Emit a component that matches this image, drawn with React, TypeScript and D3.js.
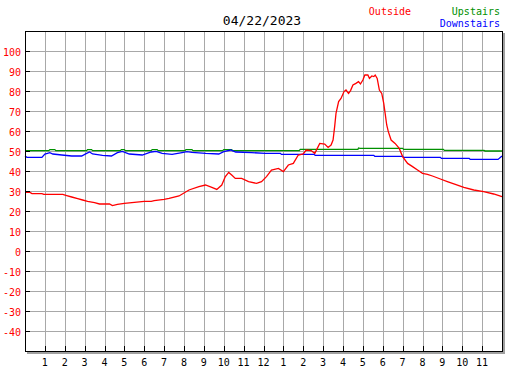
import React from "react";
import * as d3 from "d3";

// hour of day, temperature
const outsideTemps: [number, number][] = [
  [0, 29.3], [0.25, 29.3], [0.35, 28.7], [0.85, 28.7], [0.95, 28.3], [1.9, 28.3],
  [2.1, 27.7], [2.35, 27.0], [2.65, 26.2], [2.9, 25.5], [3.15, 24.8], [3.5, 24.2],
  [3.75, 23.5], [4.25, 23.5], [4.4, 22.7], [4.65, 23.3], [5.0, 23.8], [5.5, 24.3],
  [6.0, 24.8], [6.35, 24.8], [6.5, 25.2], [7.0, 25.8], [7.25, 26.3], [7.75, 27.5],
  [8.25, 30.5], [8.75, 32.2], [9.08, 33], [9.4, 31.8], [9.65, 30.8], [9.9, 33],
  [10.08, 37.2], [10.25, 39.3], [10.4, 38], [10.58, 36.3], [10.9, 36.3], [11.25, 34.7],
  [11.65, 33.8], [11.9, 34.7], [12.15, 37.2], [12.4, 40.5], [12.75, 41.3], [13.0, 39.7],
  [13.25, 43], [13.5, 43.8], [13.75, 48], [14.0, 48.5], [14.15, 50.5], [14.4, 50.2],
  [14.58, 48.8], [14.83, 53.8], [15.08, 53.5], [15.25, 51.8], [15.4, 53], [15.5, 55.5],
  [15.58, 62.2], [15.65, 69], [15.78, 74.7], [15.9, 76.3], [16.05, 79.7], [16.15, 80.5],
  [16.28, 78.8], [16.38, 80.2], [16.5, 83], [16.65, 83.8], [16.78, 84.7], [16.88, 83.5],
  [17.0, 85.5], [17.1, 88], [17.25, 88], [17.33, 86.3], [17.45, 87.5], [17.55, 87.2],
  [17.62, 88], [17.72, 86.3], [17.83, 80.5], [17.95, 78.8], [18.05, 73.8], [18.12, 68.8],
  [18.2, 63], [18.28, 59.7], [18.42, 55.5], [18.62, 53.8], [18.83, 51.3], [19.0, 47.2],
  [19.25, 43.8], [19.5, 42.2], [19.75, 40.5], [20.0, 38.8], [20.25, 38.3], [20.5, 37.5],
  [20.9, 36], [21.25, 34.7], [21.65, 33.3], [22.08, 31.8], [22.58, 30.5], [23.08, 29.7],
  [23.58, 28.5], [24.0, 27.2],
];

const upstairsTemps: [number, number][] = [
  [0, 50.2], [1.2, 50.2], [1.25, 50.7], [1.5, 50.7], [1.55, 50.2], [3.1, 50.2],
  [3.15, 50.7], [3.35, 50.7], [3.4, 50.2], [4.8, 50.2], [4.85, 50.7], [5.0, 50.7],
  [5.05, 50.2], [6.35, 50.2], [6.4, 50.7], [6.65, 50.7], [6.7, 50.2], [8.05, 50.2],
  [8.1, 50.7], [8.4, 50.7], [8.45, 50.2], [9.95, 50.2], [10.0, 50.7], [10.4, 50.7],
  [10.45, 50.2], [13.8, 50.2], [13.85, 50.8], [16.75, 50.8], [16.78, 51.5], [16.85, 51.3],
  [19.0, 51.3], [19.05, 50.8], [21.05, 50.8], [21.1, 50.3], [23.1, 50.3], [23.15, 50.0],
  [24.0, 50.0],
];

const downstairsTemps: [number, number][] = [
  [0, 47.5], [0.1, 46.8], [0.85, 46.8], [1.0, 48.5], [1.25, 49.2], [1.4, 48.5],
  [1.85, 48], [2.35, 47.5], [2.85, 47.5], [3.1, 48.8], [3.25, 49.5], [3.4, 48.5],
  [3.9, 47.8], [4.35, 47.5], [4.65, 49.2], [4.9, 49.8], [5.25, 48.5], [5.9, 48],
  [6.35, 49.5], [6.6, 49.8], [6.9, 48.8], [7.4, 48.3], [7.9, 49.2], [8.15, 49.7],
  [8.4, 49.3], [9.1, 48.8], [9.75, 48.5], [10.0, 49.7], [10.35, 50.5], [10.6, 49.5],
  [11.4, 49.2], [12.1, 48.8], [12.85, 48.8], [12.9, 48.3], [14.55, 48.3], [14.6, 47.8],
  [17.55, 47.8], [17.6, 47.3], [19.0, 47.3], [19.05, 46.8], [20.9, 46.8], [20.95, 46.3],
  [22.35, 46.3], [22.4, 45.8], [23.8, 45.8], [24.0, 47.5],
];

const hourLabels = ["1", "2", "3", "4", "5", "6", "7", "8", "9", "10", "11", "12",
  "1", "2", "3", "4", "5", "6", "7", "8", "9", "10", "11"];
const tempTicks = [100, 90, 80, 70, 60, 50, 40, 30, 20, 10, 0, -10, -20, -30, -40];

const FONT = "'DejaVu Sans Mono', monospace";

export default function App() {
  const x = d3.scaleLinear().domain([0, 24]).range([25, 502]);
  const y = d3.scaleLinear().domain([-50, 110]).range([351, 31]);
  const line = d3
    .line<[number, number]>()
    .x((d) => x(d[0]))
    .y((d) => y(d[1]));

  const left = x(0), right = x(24), top = y(110), bottom = y(-50);
  const px = (v: number) => Math.round(v) + 0.5;

  return (
    <svg
      width={527}
      height={370}
      style={{ position: "absolute", left: 0, top: 0, background: "#fff" }}
    >
      <rect x={0} y={0} width={527} height={370} fill="#fff" />

      {/* grid */}
      <g stroke="#a8a8a8" strokeWidth={1} shapeRendering="crispEdges">
        {hourLabels.map((_, i) => (
          <line key={"v" + i} x1={px(x(i + 1))} x2={px(x(i + 1))} y1={top} y2={bottom} />
        ))}
        {tempTicks.map((t) => (
          <line key={"h" + t} x1={left} x2={right} y1={px(y(t))} y2={px(y(t))} />
        ))}
      </g>

      {/* shadow */}
      <g fill="#a0a0a0" shapeRendering="crispEdges">
        <rect x={right + 1} y={top + 2} width={2} height={bottom - top + 1} />
        <rect x={left + 2} y={bottom + 1} width={right - left + 1} height={2} />
      </g>

      {/* series */}
      <g fill="none" strokeWidth={1.3}>
        <path d={line(upstairsTemps) ?? ""} stroke="#009000" />
        <path d={line(downstairsTemps) ?? ""} stroke="#0000ff" />
        <path d={line(outsideTemps) ?? ""} stroke="#ff0000" />
      </g>

      {/* frame and ticks */}
      <g stroke="#000" strokeWidth={1} shapeRendering="crispEdges" fill="none">
        <rect x={left + 0.5} y={top + 0.5} width={right - left} height={bottom - top} />
        {tempTicks.map((t) => (
          <line key={"lt" + t} x1={left} x2={left + 5} y1={px(y(t))} y2={px(y(t))} />
        ))}
        {hourLabels.map((_, i) => (
          <line key={"bt" + i} x1={px(x(i + 1))} x2={px(x(i + 1))} y1={bottom - 5} y2={bottom} />
        ))}
      </g>

      {/* y labels */}
      <g fontFamily={FONT} fontSize={10} fill="#ff0000" textAnchor="end">
        {tempTicks.map((t) => (
          <text key={"yl" + t} x={21} y={y(t) + 4.5}>
            {t}
          </text>
        ))}
      </g>

      {/* x labels */}
      <g fontFamily={FONT} fontSize={10} fill="#000" textAnchor="middle">
        {hourLabels.map((h, i) => (
          <text key={"xl" + i} x={x(i + 1)} y={365.5}>
            {h}
          </text>
        ))}
      </g>

      {/* title and legend */}
      <text x={262} y={25} fontFamily={FONT} fontSize={13} textAnchor="middle" fill="#000">
        04/22/2023
      </text>
      <g fontFamily={FONT} fontSize={10} textAnchor="end">
        <text x={411} y={15} fill="#ff0000">Outside</text>
        <text x={500} y={15} fill="#009000">Upstairs</text>
        <text x={500} y={27} fill="#0000ff">Downstairs</text>
      </g>
    </svg>
  );
}
